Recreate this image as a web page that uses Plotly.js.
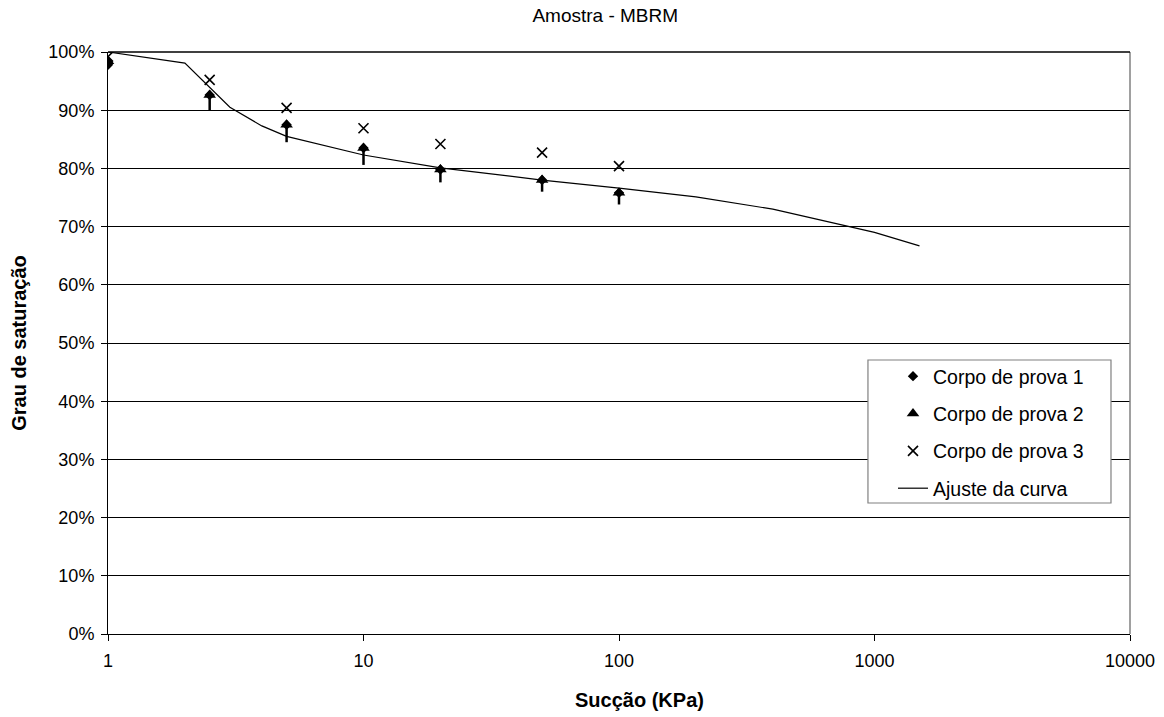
<!DOCTYPE html>
<html>
<head>
<meta charset="utf-8">
<script src="https://cdn.plot.ly/plotly-3.0.1.min.js"></script>
<style>html,body{margin:0;padding:0;background:#fff;}#chart{width:1164px;height:717px;}</style>
</head>
<body>
<div id="chart"></div>
<script>
// Data
const suction = [1, 2.5, 5, 10, 20, 50, 100];
const cp1 = [97.8, 92.6, 87.5, 83.5, 79.8, 78.0, 75.8];
const cp2 = [98.4, 92.6, 87.5, 83.5, 79.8, 78.0, 75.8];
const cp2Stem = [0, 2.6, 3.0, 2.9, 2.2, 2.0, 2.0];
const cp3 = [99.2, 95.2, 90.4, 86.9, 84.2, 82.7, 80.4];
const fitX = [1, 2, 3, 4, 5, 10, 20, 50, 100, 200, 400, 800, 1000, 1500];
const fitY = [100, 98.1, 90.5, 87.3, 85.5, 82.3, 80.1, 78.0, 76.6, 75.1, 73.0, 70.0, 69.0, 66.7];
const xTicks = [1, 10, 100, 1000, 10000];
const xTickText = ['1', '10', '100', '1000', '10000'];

const font = '"Liberation Sans", Arial, sans-serif';

const traces = [
  {
    x: suction, y: cp1, type: 'scatter', mode: 'markers', name: 'Corpo de prova 1',
    legendgroup: 'g1',
    marker: {symbol: 'diamond', size: 8, color: '#000'}
  },
  {
    x: suction, y: cp2, type: 'scatter', mode: 'markers', name: 'Corpo de prova 2',
    legendgroup: 'g2',
    marker: {symbol: 'triangle-up', size: 11, color: '#000'},
    error_y: {type: 'data', symmetric: false, array: cp2Stem.map(() => 0), arrayminus: cp2Stem,
              thickness: 2.5, width: 0, color: '#000'}
  },
  {
    x: suction, y: cp3, type: 'scatter', mode: 'markers', name: 'Corpo de prova 3',
    legendgroup: 'g3',
    marker: {symbol: 'x-thin-open', size: 10, color: '#000', line: {width: 1.6, color: '#000'}}
  },
  {
    x: fitX, y: fitY, type: 'scatter', mode: 'lines', name: 'Ajuste da curva',
    legendgroup: 'g4',
    line: {color: '#000', width: 1.2}
  }
];

const layout = {
  width: 1164, height: 717,
  paper_bgcolor: '#fff', plot_bgcolor: '#fff',
  margin: {l: 108, r: 34, t: 52, b: 83},
  font: {family: font, color: '#000', size: 18},
  title: {text: 'Amostra - MBRM', font: {family: font, size: 19, color: '#000'},
          x: 0.52, xanchor: 'center', y: 0.979, yanchor: 'middle'},
  xaxis: {
    type: 'log', range: [0, 4], tickvals: xTicks, ticktext: xTickText,
    showgrid: false, zeroline: false, showline: true, linecolor: '#000', linewidth: 1,
    ticks: 'outside', ticklen: 6, tickcolor: '#000', tickfont: {size: 18},
    ticklabelstandoff: 4
  },
  yaxis: {
    range: [0, 100], dtick: 10, ticksuffix: '%',
    showgrid: true, gridcolor: '#000', gridwidth: 1, zeroline: false,
    showline: true, linecolor: '#000', linewidth: 1,
    ticks: 'outside', ticklen: 6, tickcolor: '#000', tickfont: {size: 18},
    ticklabelstandoff: 3,
    title: {text: '<b>Grau de saturação</b>', font: {family: font, size: 20}, standoff: 16}
  },
  annotations: [
    {text: '<b>Sucção (KPa)</b>', xref: 'paper', yref: 'paper', x: 0.52, y: -0.114,
     xanchor: 'center', yanchor: 'middle', showarrow: false,
     font: {family: font, size: 20, color: '#000'}}
  ],
  shapes: [
    {type: 'line', xref: 'paper', yref: 'paper', x0: 1, x1: 1, y0: 0, y1: 1,
     line: {color: '#808080', width: 1.5}},
    {type: 'line', xref: 'paper', yref: 'paper', x0: 0, x1: 1, y0: 1, y1: 1,
     line: {color: '#000', width: 1.5}},
    {type: 'rect', xref: 'paper', yref: 'paper', x0: 0.7436, x1: 0.9814, y0: 0.2251, y1: 0.4708,
     fillcolor: '#fff', line: {color: '#808080', width: 1.2}, layer: 'above'}
  ],
  legend: {
    x: 0.7681, y: 0.476, xanchor: 'left', yanchor: 'top',
    bgcolor: 'rgba(0,0,0,0)', borderwidth: 0,
    font: {family: font, size: 19.5, color: '#000'},
    traceorder: 'grouped', tracegroupgap: 9, itemwidth: 30
  },
  showlegend: true
};

Plotly.newPlot('chart', traces, layout, {displayModeBar: false, staticPlot: true});
</script>
</body>
</html>
